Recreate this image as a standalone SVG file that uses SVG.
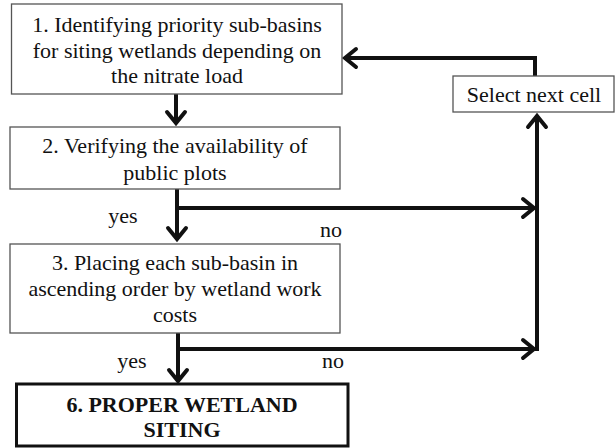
<svg xmlns="http://www.w3.org/2000/svg" width="615" height="448" viewBox="0 0 615 448">
<style>
  .box { fill: #ffffff; stroke: #555555; stroke-width: 1.3; }
  .bold-box { fill: #ffffff; stroke: #111111; stroke-width: 3; }
  .t { font-family: "Liberation Serif", "Times New Roman", serif; font-size: 22px; fill: #111111; text-anchor: middle; }
  .tb { font-weight: bold; }
  .c { fill: none; stroke: #111111; stroke-width: 4; }
</style>
<defs>
  <marker id="arr" markerUnits="userSpaceOnUse" viewBox="-16 -12 20 24" refX="0" refY="0" markerWidth="20" markerHeight="24" orient="auto">
    <path d="M -11 -9 L 0 0 L -11 9" fill="none" stroke="#111111" stroke-width="4" stroke-linecap="round" stroke-linejoin="miter"/>
  </marker>
</defs>

<g id="connectors">
  <path class="c" d="M 176 94 L 176 123" marker-end="url(#arr)"/>
  <path class="c" d="M 177 189 L 177 239" marker-end="url(#arr)"/>
  <path class="c" d="M 177 208 L 534 208" marker-end="url(#arr)"/>
  <path class="c" d="M 178 333 L 178 381" marker-end="url(#arr)"/>
  <path class="c" d="M 178 349 L 534 349" marker-end="url(#arr)"/>
  <path class="c" d="M 537 351 L 537 116" marker-end="url(#arr)"/>
  <path class="c" d="M 535 76 L 535 58 L 345 58" marker-end="url(#arr)"/>
</g>

<g id="node1">
  <rect class="box" x="11.5" y="4" width="330.5" height="90"/>
  <text class="t" x="177" y="32">1. Identifying priority sub-basins</text>
  <text class="t" x="177" y="57.5">for siting wetlands depending on</text>
  <text class="t" x="177" y="83">the nitrate load</text>
</g>

<g id="node2">
  <rect class="box" x="10" y="127" width="330" height="62"/>
  <text class="t" x="175" y="153">2. Verifying the availability of</text>
  <text class="t" x="175" y="180">public plots</text>
</g>

<g id="node3">
  <rect class="box" x="10" y="244" width="330" height="89"/>
  <text class="t" x="175" y="270">3. Placing each sub-basin in</text>
  <text class="t" x="175" y="296">ascending order by wetland work</text>
  <text class="t" x="175" y="322">costs</text>
</g>

<g id="node6">
  <rect class="bold-box" x="16.5" y="384" width="331.5" height="62"/>
  <text class="t tb" x="182" y="412">6. PROPER WETLAND</text>
  <text class="t tb" x="182" y="437">SITING</text>
</g>

<g id="select">
  <rect class="box" x="453" y="76" width="161" height="36"/>
  <text class="t" x="534" y="101.5">Select next cell</text>
</g>

<g id="labels">
  <text class="t" x="123" y="223">yes</text>
  <text class="t" x="331" y="237">no</text>
  <text class="t" x="132" y="368">yes</text>
  <text class="t" x="333" y="368">no</text>
</g>
</svg>
